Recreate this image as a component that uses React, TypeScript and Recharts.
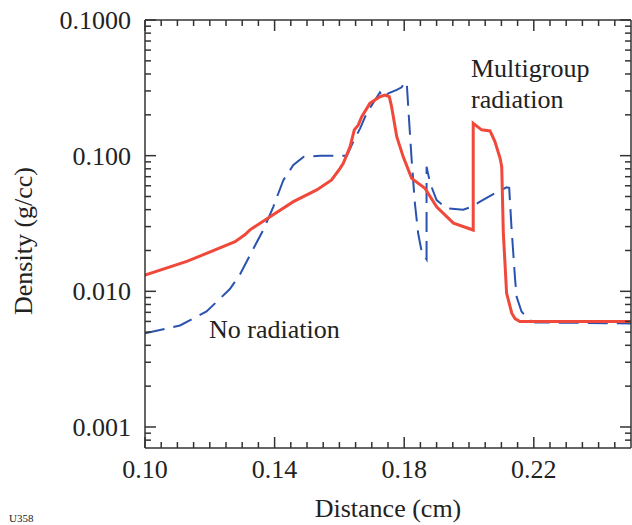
import { LineChart, Line, XAxis, YAxis } from "recharts";

// distance (cm) and density (g/cc)
const multigroupX = [
  0.1, 0.1129, 0.1278, 0.1309, 0.1324, 0.1386, 0.1458, 0.153, 0.1576, 0.1602,
  0.1612, 0.1633, 0.1646, 0.1658, 0.1669, 0.1694, 0.1725, 0.1741, 0.1754,
  0.1761, 0.1777, 0.1797, 0.1823, 0.1864, 0.19, 0.1952, 0.2013, 0.2013,
  0.2039, 0.2065, 0.208, 0.2096, 0.2101, 0.2106, 0.2116, 0.2132, 0.2142,
  0.2157, 0.25,
];
const multigroupY = [
  0.0132, 0.0166, 0.0232, 0.0262, 0.0284, 0.0355, 0.0458, 0.0559, 0.0662,
  0.0807, 0.0879, 0.1165, 0.155, 0.168, 0.194, 0.243, 0.272, 0.28, 0.272,
  0.23, 0.138, 0.098, 0.068, 0.0575, 0.042, 0.0318, 0.0283, 0.173, 0.155,
  0.152, 0.127, 0.0957, 0.083, 0.0268, 0.0097, 0.0069, 0.0063, 0.006, 0.006,
];

const noRadX = [
  0.1, 0.1108, 0.119, 0.1262, 0.1293, 0.1324, 0.1365, 0.1396, 0.1427, 0.1458,
  0.1489, 0.154, 0.1623, 0.1643, 0.1664, 0.1684, 0.171, 0.1725, 0.1736,
  0.1751, 0.1777, 0.1792, 0.1802, 0.1808, 0.1813, 0.1823, 0.1833, 0.1843,
  0.1854, 0.1869, 0.1869, 0.188, 0.19, 0.1931, 0.1982, 0.2008, 0.2034,
  0.2075, 0.2096, 0.2116, 0.2124, 0.2131, 0.2142, 0.2147, 0.2162, 0.2183,
  0.2204, 0.25,
];
const noRadY = [
  0.0049, 0.0056, 0.0071, 0.0104, 0.0133, 0.0185, 0.0283, 0.042, 0.066,
  0.0854, 0.098, 0.1, 0.1, 0.127, 0.159, 0.205, 0.257, 0.293, 0.265, 0.288,
  0.305, 0.319, 0.351, 0.34, 0.217, 0.093, 0.0446, 0.0268, 0.0196, 0.0172,
  0.083, 0.0626, 0.047, 0.041, 0.04, 0.042, 0.0458, 0.052, 0.0552, 0.0585,
  0.058, 0.03, 0.0125, 0.0091, 0.0071, 0.0062, 0.0059, 0.0058,
];

const xMajor = [0.1, 0.14, 0.18, 0.22];
const xLabels = ["0.10", "0.14", "0.18", "0.22"];
const yMajor = [0.001, 0.01, 0.1, 1];
const yLabels = ["0.001", "0.010", "0.100", "0.1000"];

// minor ticks every 0.005 cm, and 2..9 in each decade
const xTicks = Array.from({ length: 30 }, (_, i) =>
  Math.round((0.1 + i * 0.005) * 1000) / 1000
);
const yTicks: number[] = [0.0008, 0.0009];
[0.001, 0.01, 0.1].forEach((d) => {
  for (let k = 1; k <= 9; k++) yTicks.push(+(d * k).toPrecision(3));
});
yTicks.push(1);

const multigroup = multigroupX.map((x, i) => ({ x, y: multigroupY[i] }));
const noRad = noRadX.map((x, i) => ({ x, y: noRadY[i] }));

const FONT = "'Liberation Serif', 'Times New Roman', serif";
const INK = "#333";

const majorIdx = (v: number, list: number[]) =>
  list.findIndex((m) => Math.abs(v - m) < 1e-9);

function BottomTick({ x, y, payload }: any) {
  const i = majorIdx(payload.value, xMajor);
  return (
    <g>
      <line x1={x} x2={x} y1={y} y2={y - (i >= 0 ? 11 : 6)} stroke={INK} strokeWidth={1.5} />
      {i >= 0 && (
        <text x={x} y={y + 30} textAnchor="middle" fontSize={26} fontFamily={FONT} fill="#222">
          {xLabels[i]}
        </text>
      )}
    </g>
  );
}

function TopTick({ x, y, payload }: any) {
  const i = majorIdx(payload.value, xMajor);
  return <line x1={x} x2={x} y1={y} y2={y + (i >= 0 ? 11 : 6)} stroke={INK} strokeWidth={1.5} />;
}

function LeftTick({ x, y, payload }: any) {
  const i = majorIdx(payload.value, yMajor);
  return (
    <g>
      <line x1={x} x2={x + (i >= 0 ? 11 : 6)} y1={y} y2={y} stroke={INK} strokeWidth={1.5} />
      {i >= 0 && (
        <text x={x - 14} y={y + 9} textAnchor="end" fontSize={26} fontFamily={FONT} fill="#222">
          {yLabels[i]}
        </text>
      )}
    </g>
  );
}

function RightTick({ x, y, payload }: any) {
  const i = majorIdx(payload.value, yMajor);
  return <line x1={x} x2={x - (i >= 0 ? 11 : 6)} y1={y} y2={y} stroke={INK} strokeWidth={1.5} />;
}

export default function App() {
  const axisLine = { stroke: INK, strokeWidth: 1.5 };
  return (
    <div style={{ position: "absolute", left: 0, top: 0 }}>
      <LineChart width={632} height={525} margin={{ top: 19, right: 0, bottom: 0, left: 0 }}>
        <XAxis
          xAxisId="b"
          dataKey="x"
          type="number"
          domain={[0.1, 0.25]}
          allowDataOverflow
          ticks={xTicks}
          interval={0}
          height={77}
          tickSize={0}
          tickMargin={0}
          tickLine={false}
          axisLine={axisLine}
          tick={<BottomTick />}
        />
        <XAxis
          xAxisId="t"
          orientation="top"
          dataKey="x"
          type="number"
          domain={[0.1, 0.25]}
          allowDataOverflow
          ticks={xTicks}
          interval={0}
          height={1}
          tickSize={0}
          tickMargin={0}
          tickLine={false}
          axisLine={axisLine}
          tick={<TopTick />}
        />
        <YAxis
          yAxisId="l"
          type="number"
          scale="log"
          domain={[0.0007, 1]}
          allowDataOverflow
          ticks={yTicks}
          interval={0}
          width={145}
          tickSize={0}
          tickMargin={0}
          tickLine={false}
          axisLine={axisLine}
          tick={<LeftTick />}
        />
        <YAxis
          yAxisId="r"
          orientation="right"
          type="number"
          scale="log"
          domain={[0.0007, 1]}
          allowDataOverflow
          ticks={yTicks}
          interval={0}
          width={1}
          tickSize={0}
          tickMargin={0}
          tickLine={false}
          axisLine={axisLine}
          tick={<RightTick />}
        />
        <Line
          xAxisId="b"
          yAxisId="l"
          data={noRad}
          dataKey="y"
          type="linear"
          stroke="#2a52b0"
          strokeWidth={2}
          strokeDasharray="20 9"
          dot={false}
          activeDot={false}
          isAnimationActive={false}
        />
        <Line
          xAxisId="b"
          yAxisId="l"
          data={multigroup}
          dataKey="y"
          type="linear"
          stroke="#f0483a"
          strokeWidth={3}
          dot={false}
          activeDot={false}
          isAnimationActive={false}
        />
        <text x={471} y={77} fontSize={26} fontFamily={FONT} fill="#222">Multigroup</text>
        <text x={471} y={108} fontSize={26} fontFamily={FONT} fill="#222">radiation</text>
        <text x={209} y={338} fontSize={26} fontFamily={FONT} fill="#222">No radiation</text>
        <text
          x={32}
          y={241}
          transform="rotate(-90, 32, 241)"
          textAnchor="middle"
          fontSize={26}
          fontFamily={FONT}
          fill="#222"
        >
          Density (g/cc)
        </text>
        <text x={388} y={517} textAnchor="middle" fontSize={26} fontFamily={FONT} fill="#222">
          Distance (cm)
        </text>
        <text x={9} y={522} fontSize={11} fontFamily={FONT} fill="#222">U358</text>
      </LineChart>
    </div>
  );
}
